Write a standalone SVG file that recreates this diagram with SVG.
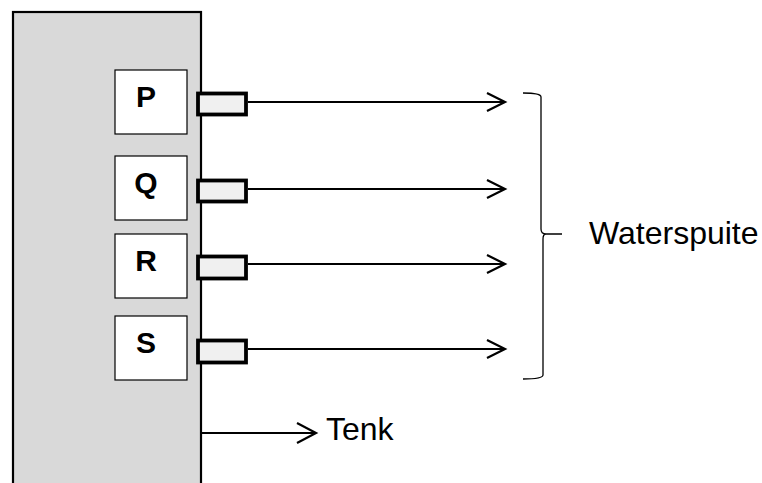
<svg xmlns="http://www.w3.org/2000/svg" width="762" height="483" viewBox="0 0 762 483">
<style>
.label{font-family:"Liberation Sans",Arial,sans-serif;fill:#000}
.box{fill:#fff;stroke:#000;stroke-width:1.2}
.plug{fill:#f0f0f0;stroke:#000;stroke-width:3.8}
.conn{fill:none;stroke:#000;stroke-width:2.2}
.head{fill:none;stroke:#000;stroke-width:2.2;stroke-linejoin:miter}
.brace{fill:none;stroke:#000;stroke-width:1.3}
</style>
<rect width="762" height="483" fill="#fff"/>
<g id="tank">
<rect x="13" y="12" width="188" height="480" fill="#d9d9d9" stroke="#000" stroke-width="2.2"/>
</g>
<g id="P"><rect class="box" x="115" y="70" width="72" height="64"/><text class="label" x="146" y="107" font-size="30" font-weight="bold" text-anchor="middle">P</text></g>
<g id="Q"><rect class="box" x="115" y="156" width="72" height="64"/><text class="label" x="146" y="193" font-size="30" font-weight="bold" text-anchor="middle">Q</text></g>
<g id="R"><rect class="box" x="115" y="234" width="72" height="64"/><text class="label" x="146" y="271" font-size="30" font-weight="bold" text-anchor="middle">R</text></g>
<g id="S"><rect class="box" x="115" y="316" width="72" height="64"/><text class="label" x="146" y="353" font-size="30" font-weight="bold" text-anchor="middle">S</text></g>
<g id="plugP"><rect class="plug" x="198" y="93.5" width="48" height="21"/></g>
<g id="plugQ"><rect class="plug" x="198" y="180.5" width="48" height="21"/></g>
<g id="plugR"><rect class="plug" x="198" y="256.5" width="48" height="22"/></g>
<g id="plugS"><rect class="plug" x="198" y="340.5" width="48" height="22"/></g>
<g id="connectors">
<line class="conn" x1="248" y1="102" x2="504" y2="102"/>
<polyline class="head" points="487,93 505,102 487,111"/>
<line class="conn" x1="248" y1="189" x2="504" y2="189"/>
<polyline class="head" points="487,180 505,189 487,198"/>
<line class="conn" x1="248" y1="264" x2="504" y2="264"/>
<polyline class="head" points="487,255 505,264 487,273"/>
<line class="conn" x1="248" y1="349" x2="504" y2="349"/>
<polyline class="head" points="487,340 505,349 487,358"/>
<line class="conn" x1="201" y1="433" x2="315" y2="433"/>
<polyline class="head" points="297,423 316,433 297,443"/>
</g>
<g id="brace">
<path class="brace" d="M523,93 Q541,93 541,97 L541,229 Q541,234 546,234 L562,234 M546,234 Q543,234 543,239 L543,375 Q543,379 523,379"/>
</g>
<g id="labels">
<text class="label" x="589" y="244" font-size="32">Waterspuite</text>
<text class="label" x="326" y="440" font-size="32">Tenk</text>
</g>
</svg>
